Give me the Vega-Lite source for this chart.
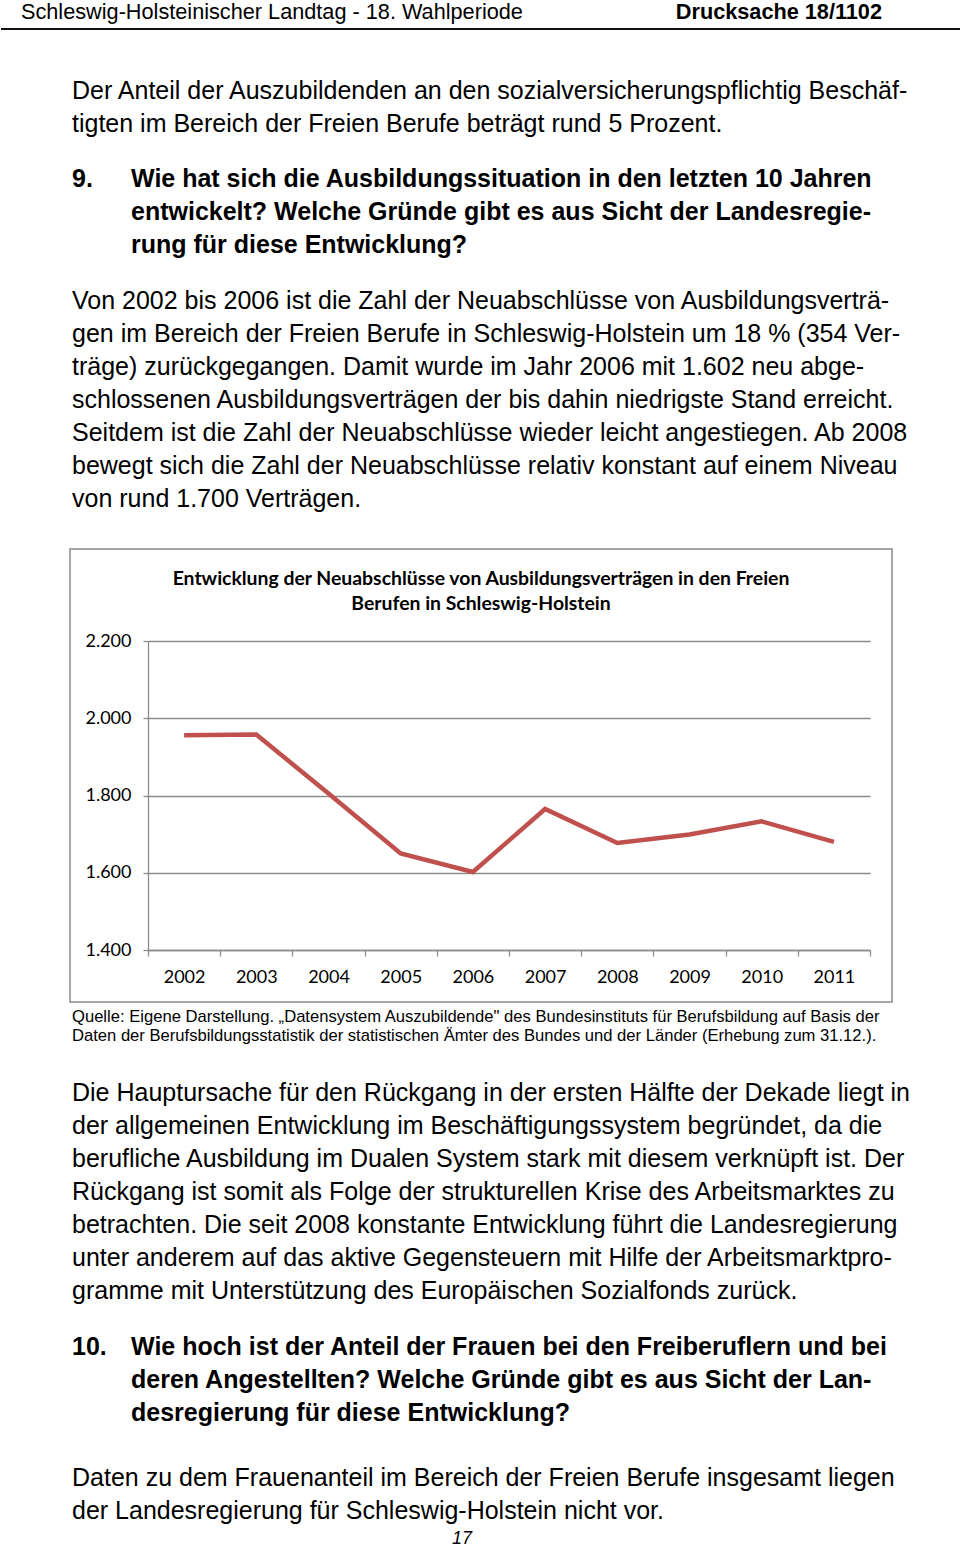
{
  "$schema": "https://vega.github.io/schema/vega-lite/v6.json",
  "padding": 0,
  "background": "white",
  "spacing": 4.5,
  "config": {"view": {"stroke": null}, "font": "Liberation Sans"},
  "datasets": {
    "header": [
      {"part": "Landtag", "text": "Schleswig-Holsteinischer Landtag - 18. Wahlperiode"},
      {"part": "Drucksache", "text": "Drucksache 18/1102"}
    ],
    "para1": [
      {"line": 1, "col": "margin", "text": "Der Anteil der Auszubildenden an den sozialversicherungspflichtig Beschäf-"},
      {"line": 2, "col": "margin", "text": "tigten im Bereich der Freien Berufe beträgt rund 5 Prozent."}
    ],
    "question9": [
      {"line": 1, "col": "margin", "text": "9."},
      {"line": 1, "col": "hang", "text": "Wie hat sich die Ausbildungssituation in den letzten 10 Jahren"},
      {"line": 2, "col": "hang", "text": "entwickelt? Welche Gründe gibt es aus Sicht der Landesregie-"},
      {"line": 3, "col": "hang", "text": "rung für diese Entwicklung?"}
    ],
    "para2": [
      {"line": 1, "col": "margin", "text": "Von 2002 bis 2006 ist die Zahl der Neuabschlüsse von Ausbildungsverträ-"},
      {"line": 2, "col": "margin", "text": "gen im Bereich der Freien Berufe in Schleswig-Holstein um 18 % (354 Ver-"},
      {"line": 3, "col": "margin", "text": "träge) zurückgegangen. Damit wurde im Jahr 2006 mit 1.602 neu abge-"},
      {"line": 4, "col": "margin", "text": "schlossenen Ausbildungsverträgen der bis dahin niedrigste Stand erreicht."},
      {"line": 5, "col": "margin", "text": "Seitdem ist die Zahl der Neuabschlüsse wieder leicht angestiegen. Ab 2008"},
      {"line": 6, "col": "margin", "text": "bewegt sich die Zahl der Neuabschlüsse relativ konstant auf einem Niveau"},
      {"line": 7, "col": "margin", "text": "von rund 1.700 Verträgen."}
    ],
    "series": [
      {"year": "2002", "value": 1956},
      {"year": "2003", "value": 1958},
      {"year": "2004", "value": 1805},
      {"year": "2005", "value": 1650},
      {"year": "2006", "value": 1602},
      {"year": "2007", "value": 1765},
      {"year": "2008", "value": 1677},
      {"year": "2009", "value": 1699},
      {"year": "2010", "value": 1733},
      {"year": "2011", "value": 1680}
    ],
    "source": [
      {"line": 1, "col": "margin", "text": "Quelle: Eigene Darstellung. „Datensystem Auszubildende\" des Bundesinstituts für Berufsbildung auf Basis der"},
      {"line": 2, "col": "margin", "text": "Daten der Berufsbildungsstatistik der statistischen Ämter des Bundes und der Länder (Erhebung zum 31.12.)."}
    ],
    "para3": [
      {"line": 1, "col": "margin", "text": "Die Hauptursache für den Rückgang in der ersten Hälfte der Dekade liegt in"},
      {"line": 2, "col": "margin", "text": "der allgemeinen Entwicklung im Beschäftigungssystem begründet, da die"},
      {"line": 3, "col": "margin", "text": "berufliche Ausbildung im Dualen System stark mit diesem verknüpft ist. Der"},
      {"line": 4, "col": "margin", "text": "Rückgang ist somit als Folge der strukturellen Krise des Arbeitsmarktes zu"},
      {"line": 5, "col": "margin", "text": "betrachten. Die seit 2008 konstante Entwicklung führt die Landesregierung"},
      {"line": 6, "col": "margin", "text": "unter anderem auf das aktive Gegensteuern mit Hilfe der Arbeitsmarktpro-"},
      {"line": 7, "col": "margin", "text": "gramme mit Unterstützung des Europäischen Sozialfonds zurück."}
    ],
    "question10": [
      {"line": 1, "col": "margin", "text": "10."},
      {"line": 1, "col": "hang", "text": "Wie hoch ist der Anteil der Frauen bei den Freiberuflern und bei"},
      {"line": 2, "col": "hang", "text": "deren Angestellten? Welche Gründe gibt es aus Sicht der Lan-"},
      {"line": 3, "col": "hang", "text": "desregierung für diese Entwicklung?"}
    ],
    "para4": [
      {"line": 1, "col": "margin", "text": "Daten zu dem Frauenanteil im Bereich der Freien Berufe insgesamt liegen"},
      {"line": 2, "col": "margin", "text": "der Landesregierung für Schleswig-Holstein nicht vor."}
    ],
    "pagenum": [{"page": "17"}]
  },
  "vconcat": [
    {
      "spacing": 33,
      "vconcat": [
        {
          "spacing": 44,
          "vconcat": [
            {
              "width": 960,
              "height": 29,
              "data": {"name": "header"},
              "layer": [
                {
                  "transform": [{"filter": "datum.part === 'Landtag'"}],
                  "mark": {"type": "text", "align": "left", "baseline": "middle", "dy": -3, "font": "Liberation Sans Narrow, Liberation Sans", "fontSize": 21.7, "color": "#000"},
                  "encoding": {
                    "x": {"field": "part", "type": "nominal", "scale": {"type": "point", "domain": ["Landtag", "Drucksache"], "range": [20, 881], "padding": 0}, "axis": null},
                    "text": {"field": "text"}
                  }
                },
                {
                  "transform": [{"filter": "datum.part === 'Drucksache'"}],
                  "mark": {"type": "text", "align": "right", "baseline": "middle", "dy": -3, "font": "Liberation Sans Narrow, Liberation Sans", "fontSize": 21.7, "fontWeight": "bold", "color": "#000"},
                  "encoding": {
                    "x": {"field": "part", "type": "nominal", "scale": {"type": "point", "domain": ["Landtag", "Drucksache"], "range": [20, 881], "padding": 0}, "axis": null},
                    "text": {"field": "text"}
                  }
                },
                {
                  "mark": {"type": "rule", "color": "#000", "strokeWidth": 1.3},
                  "encoding": {
                    "y": {"datum": 0, "type": "quantitative", "scale": {"domain": [0, 1]}, "axis": null}
                  }
                }
              ]
            },
            {
              "spacing": 22.5,
              "vconcat": [
                {
                  "width": 960,
                  "height": 66,
                  "data": {"name": "para1"},
                  "mark": {"type": "text", "align": "left", "baseline": "middle", "fontSize": 25, "color": "#000"},
                  "encoding": {
                    "y": {"field": "line", "type": "ordinal", "axis": null},
                    "x": {"field": "col", "type": "nominal", "scale": {"type": "point", "domain": ["margin", "hang"], "range": [71, 130], "padding": 0}, "axis": null},
                    "text": {"field": "text"}
                  }
                },
                {
                  "width": 960,
                  "height": 99,
                  "data": {"name": "question9"},
                  "mark": {"type": "text", "align": "left", "baseline": "middle", "fontSize": 25, "fontWeight": "bold", "color": "#000"},
                  "encoding": {
                    "y": {"field": "line", "type": "ordinal", "axis": null},
                    "x": {"field": "col", "type": "nominal", "scale": {"type": "point", "domain": ["margin", "hang"], "range": [71, 130], "padding": 0}, "axis": null},
                    "text": {"field": "text"}
                  }
                },
                {
                  "width": 960,
                  "height": 231,
                  "data": {"name": "para2"},
                  "mark": {"type": "text", "align": "left", "baseline": "middle", "fontSize": 25, "color": "#000"},
                  "encoding": {
                    "y": {"field": "line", "type": "ordinal", "axis": null},
                    "x": {"field": "col", "type": "nominal", "scale": {"type": "point", "domain": ["margin", "hang"], "range": [71, 130], "padding": 0}, "axis": null},
                    "text": {"field": "text"}
                  }
                }
              ]
            }
          ]
        },
        {
          "spacing": 0,
          "hconcat": [
            {
              "width": 68,
              "height": 453,
              "data": {"values": []},
              "mark": "text",
              "encoding": {}
            },
            {
              "width": 822,
              "height": 453,
              "view": {"stroke": "#a6a6a6", "strokeWidth": 2},
              "title": {
                "text": ["Entwicklung der Neuabschlüsse von Ausbildungsverträgen in den Freien", "Berufen in Schleswig-Holstein"],
                "font": "Lato",
                "fontSize": 19.4,
                "fontWeight": "bold",
                "color": "#000",
                "anchor": "middle",
                "frame": "group",
                "lineHeight": 25,
                "offset": -65
              },
              "data": {"name": "series"},
              "mark": {"type": "line", "color": "#c0504d", "strokeWidth": 4.5},
              "encoding": {
                "x": {
                  "field": "year",
                  "type": "ordinal",
                  "scale": {"type": "band", "range": [78, 800], "paddingInner": 0, "paddingOuter": 0},
                  "axis": {
                    "title": null,
                    "orient": "bottom",
                    "offset": -52,
                    "labelAngle": 0,
                    "labelFont": "Lato",
                    "labelFontSize": 18,
                    "labelColor": "#000",
                    "labelPadding": 12,
                    "domainColor": "#8c8c8c",
                    "domainWidth": 1.3,
                    "tickColor": "#8c8c8c",
                    "tickWidth": 1.3,
                    "tickSize": 6,
                    "tickBand": "extent",
                    "grid": false
                  }
                },
                "y": {
                  "field": "value",
                  "type": "quantitative",
                  "scale": {"domain": [1400, 2200], "range": [401, 92], "nice": false, "zero": false},
                  "axis": {
                    "title": null,
                    "orient": "left",
                    "offset": -78,
                    "values": [1400, 1600, 1800, 2000, 2200],
                    "format": ",d",
                    "labelExpr": "replace(datum.label, ',', '.')",
                    "labelFont": "Lato",
                    "labelFontSize": 18,
                    "labelColor": "#000",
                    "labelPadding": 12,
                    "domainColor": "#8c8c8c",
                    "domainWidth": 1.3,
                    "tickColor": "#8c8c8c",
                    "tickWidth": 1.3,
                    "tickSize": 5,
                    "grid": true,
                    "gridColor": "#8c8c8c",
                    "gridWidth": 1.3
                  }
                }
              }
            }
          ]
        }
      ]
    },
    {
      "spacing": 31,
      "vconcat": [
        {
          "width": 960,
          "height": 38,
          "data": {"name": "source"},
          "mark": {"type": "text", "align": "left", "baseline": "middle", "font": "Liberation Sans Narrow, Liberation Sans", "fontSize": 16.6, "color": "#000"},
          "encoding": {
            "y": {"field": "line", "type": "ordinal", "axis": null},
            "x": {"field": "col", "type": "nominal", "scale": {"type": "point", "domain": ["margin", "hang"], "range": [71, 130], "padding": 0}, "axis": null},
            "text": {"field": "text"}
          }
        },
        {
          "spacing": 1.5,
          "vconcat": [
            {
              "spacing": 32,
              "vconcat": [
                {
                  "spacing": 23,
                  "vconcat": [
                    {
                      "width": 960,
                      "height": 231,
                      "data": {"name": "para3"},
                      "mark": {"type": "text", "align": "left", "baseline": "middle", "fontSize": 25, "color": "#000"},
                      "encoding": {
                        "y": {"field": "line", "type": "ordinal", "axis": null},
                        "x": {"field": "col", "type": "nominal", "scale": {"type": "point", "domain": ["margin", "hang"], "range": [71, 130], "padding": 0}, "axis": null},
                        "text": {"field": "text"}
                      }
                    },
                    {
                      "width": 960,
                      "height": 99,
                      "data": {"name": "question10"},
                      "mark": {"type": "text", "align": "left", "baseline": "middle", "fontSize": 25, "fontWeight": "bold", "color": "#000"},
                      "encoding": {
                        "y": {"field": "line", "type": "ordinal", "axis": null},
                        "x": {"field": "col", "type": "nominal", "scale": {"type": "point", "domain": ["margin", "hang"], "range": [71, 130], "padding": 0}, "axis": null},
                        "text": {"field": "text"}
                      }
                    }
                  ]
                },
                {
                  "width": 960,
                  "height": 66,
                  "data": {"name": "para4"},
                  "mark": {"type": "text", "align": "left", "baseline": "middle", "fontSize": 25, "color": "#000"},
                  "encoding": {
                    "y": {"field": "line", "type": "ordinal", "axis": null},
                    "x": {"field": "col", "type": "nominal", "scale": {"type": "point", "domain": ["margin", "hang"], "range": [71, 130], "padding": 0}, "axis": null},
                    "text": {"field": "text"}
                  }
                }
              ]
            },
            {
              "width": 922,
              "height": 20,
              "data": {"name": "pagenum"},
              "mark": {"type": "text", "align": "center", "baseline": "middle", "fontSize": 18, "fontStyle": "italic", "color": "#000"},
              "encoding": {"text": {"field": "page"}}
            }
          ]
        }
      ]
    }
  ]
}
